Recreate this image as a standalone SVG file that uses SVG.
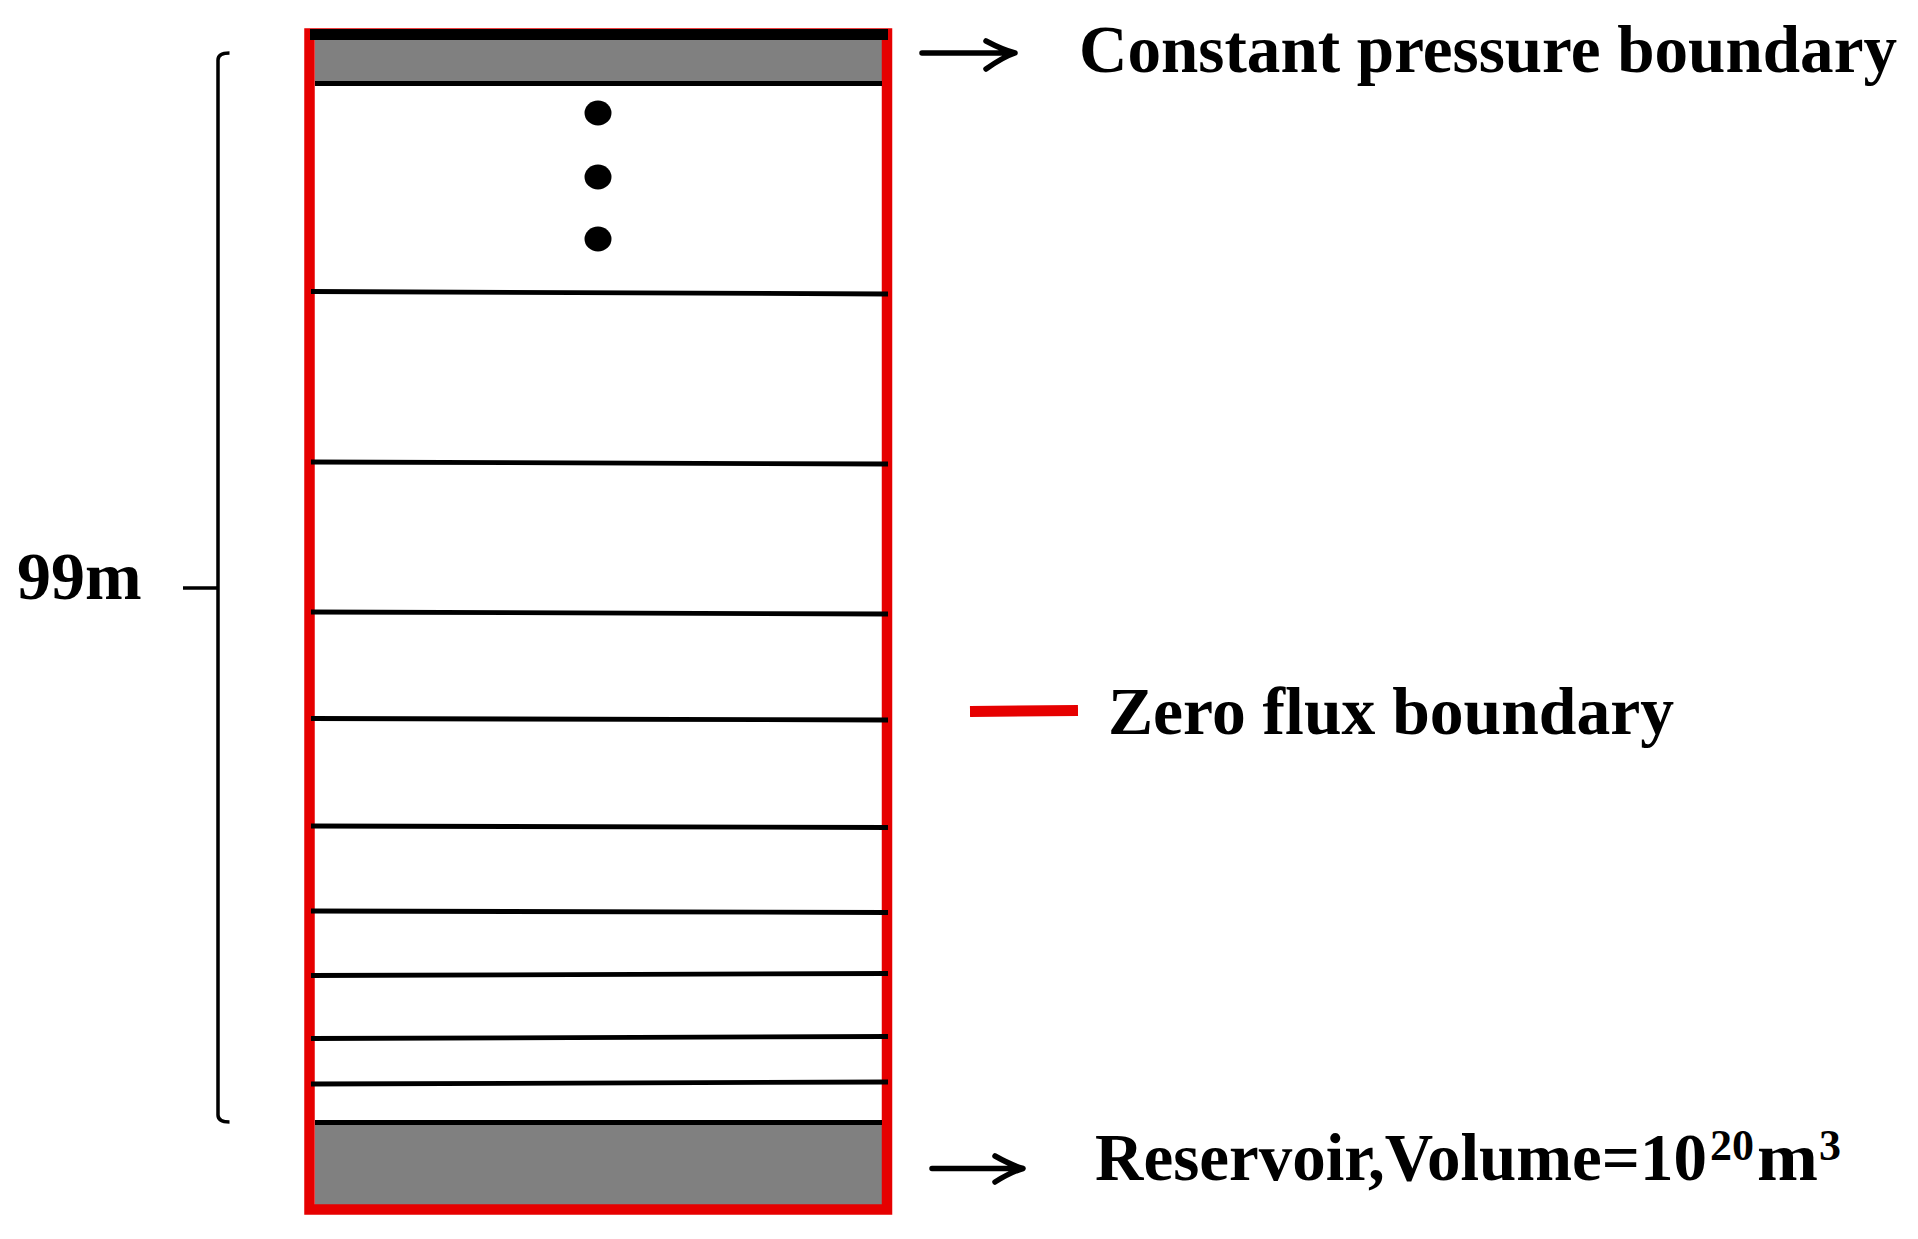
<svg xmlns="http://www.w3.org/2000/svg" width="1918" height="1239" viewBox="0 0 1918 1239">
<style>
.lbl{font-family:"Liberation Serif","Times New Roman",serif;font-weight:bold;fill:#000}
.layer{stroke:#000;stroke-width:4.8;fill:none}
.arrow{stroke:#000;stroke-width:5.5;fill:none;stroke-linecap:round;stroke-linejoin:round}
.gray{fill:#808080}
</style>
<rect width="1918" height="1239" fill="#fff"/>
<g id="column">
  <rect class="gray" x="315" y="40" width="567" height="42"/>
  <rect class="gray" x="315" y="1122" width="567" height="83"/>
  <rect x="309.5" y="33.5" width="577.5" height="1176" fill="none" stroke="#e60000" stroke-width="10.5"/>
  <rect x="310" y="29" width="578" height="11" fill="#000"/>
  <line class="layer" x1="315" y1="83.5" x2="882" y2="83.5" stroke-width="5"/>
  <line class="layer" x1="315" y1="1122.5" x2="882" y2="1122.5" stroke-width="5"/>
  <line class="layer" x1="311" y1="291.5" x2="888" y2="294"/>
  <line class="layer" x1="311" y1="462" x2="888" y2="464"/>
  <line class="layer" x1="311" y1="612" x2="888" y2="614"/>
  <line class="layer" x1="311" y1="718.5" x2="888" y2="720"/>
  <line class="layer" x1="311" y1="826" x2="888" y2="827.5"/>
  <line class="layer" x1="311" y1="911" x2="888" y2="912.5"/>
  <line class="layer" x1="311" y1="975.5" x2="888" y2="973.5"/>
  <line class="layer" x1="311" y1="1038.5" x2="888" y2="1036.5"/>
  <line class="layer" x1="311" y1="1084" x2="888" y2="1082"/>
  <ellipse cx="598" cy="113" rx="13.5" ry="12.5" fill="#000"/>
  <ellipse cx="598" cy="177" rx="13.5" ry="12.5" fill="#000"/>
  <ellipse cx="598" cy="239" rx="13.5" ry="12.5" fill="#000"/>
</g>
<g id="dimension">
  <path d="M229.5,53 Q218,53 218,60 V1115 Q218,1122 229.5,1122" fill="none" stroke="#000" stroke-width="3.5"/>
  <line x1="183" y1="588" x2="218" y2="588" stroke="#000" stroke-width="3.5"/>
  <text class="lbl" x="17" y="599" font-size="68">99m</text>
</g>
<g id="legend-zero-flux">
  <line x1="970" y1="711.5" x2="1078" y2="710.5" stroke="#e60000" stroke-width="11"/>
  <text class="lbl" x="1108" y="734" font-size="67.5" textLength="566" lengthAdjust="spacingAndGlyphs">Zero flux boundary</text>
</g>
<g id="label-top">
  <text class="lbl" x="1079" y="72" font-size="67.5" textLength="818" lengthAdjust="spacingAndGlyphs">Constant pressure boundary</text>
</g>
<g id="label-bottom">
  <text class="lbl" y="1180" font-size="67"><tspan x="1095" textLength="612" lengthAdjust="spacingAndGlyphs">Reservoir,Volume=10</tspan><tspan x="1710" y="1160" font-size="44">20</tspan><tspan x="1757" y="1180" textLength="61" lengthAdjust="spacingAndGlyphs">m</tspan><tspan x="1819" y="1160" font-size="44">3</tspan></text>
</g>
<g id="connectors">
  <path class="arrow" d="M922,53 H1014 M986,41 Q1003,50 1015,53 Q1003,57 986,69"/>
  <path class="arrow" d="M932,1168.5 H1021 M995,1156 Q1011,1165 1023,1168.5 Q1011,1172 995,1182"/>
</g>
</svg>
